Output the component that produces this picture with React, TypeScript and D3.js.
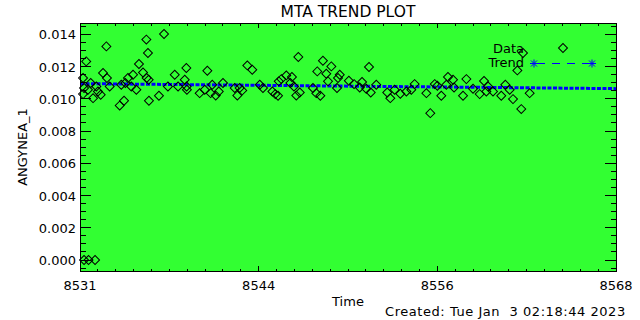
import React from "react";
import * as d3 from "d3";

// data
const dataTime = [
  8531.61, 8531.61, 8531.68, 8531.68, 8531.83, 8531.95, 8531.99, 8532.14, 8532.3, 8532.44,
  8532.53, 8532.64, 8532.83, 8532.99, 8533.22, 8533.26, 8533.45, 8534.14, 8534.25, 8534.44,
  8534.53, 8534.71, 8534.94, 8535.06, 8535.29, 8535.47, 8535.75, 8535.98, 8536.0, 8536.09,
  8536.14, 8536.16, 8536.85, 8537.2, 8537.47, 8537.94, 8538.17, 8538.63, 8538.74, 8538.76,
  8538.78, 8539.66, 8540.01, 8540.19, 8540.42, 8540.53, 8540.77, 8540.98, 8541.27, 8542.08,
  8542.26, 8542.42, 8542.6, 8542.95, 8543.29, 8543.81, 8544.03, 8544.68, 8544.88, 8545.07,
  8545.12, 8545.3, 8545.64, 8545.92, 8546.03, 8546.17, 8546.33, 8546.47, 8546.57, 8547.48,
  8547.71, 8547.78, 8547.99, 8548.17, 8548.4, 8548.52, 8548.75, 8549.14, 8549.21, 8549.33,
  8549.96, 8550.32, 8550.71, 8550.87, 8551.16, 8551.35, 8551.47, 8551.85, 8552.61, 8552.82,
  8553.12, 8553.51, 8553.93, 8554.27, 8554.5, 8555.31, 8555.58, 8555.89, 8556.07, 8556.34,
  8556.69, 8556.8, 8557.15, 8557.22, 8557.84, 8558.07, 8558.53, 8558.99, 8559.29, 8559.45,
  8559.57, 8559.91, 8560.48, 8560.76, 8561.06, 8561.29, 8561.59, 8561.86, 8561.98, 8562.44,
  8564.74,
];
const dataValue = [
  0.01129, 0.01029, 0.01067, 0.0, 0.01232, 0.01056, 0.0, 0.01098, 0.01004, 0.0,
  0.01076, 0.01045, 0.01025, 0.0116, 0.01325, 0.01129, 0.01076, 0.00958, 0.01087, 0.00988,
  0.01098, 0.01129, 0.01076, 0.01149, 0.01056, 0.01216, 0.01163, 0.01367, 0.01129, 0.01284,
  0.01118, 0.00988, 0.01019, 0.01402, 0.01076, 0.01149, 0.01076, 0.01118, 0.01191, 0.01076,
  0.01056, 0.01035, 0.01056, 0.01174, 0.01035, 0.01087, 0.0102, 0.01045, 0.01098, 0.01067,
  0.0102, 0.01067, 0.01052, 0.01207, 0.0118, 0.01087, 0.01067, 0.01045, 0.01029, 0.01019,
  0.01108, 0.01122, 0.01145, 0.01098, 0.01135, 0.01076, 0.0102, 0.01259, 0.01039, 0.01067,
  0.01035, 0.0117, 0.01019, 0.01236, 0.01155, 0.01108, 0.01201, 0.01067, 0.01129, 0.01149,
  0.01112, 0.01091, 0.0107, 0.01104, 0.01062, 0.01197, 0.01039, 0.01087, 0.01039, 0.01004,
  0.01056, 0.01031, 0.01045, 0.01056, 0.01091, 0.01035, 0.00911, 0.01091, 0.01081, 0.01019,
  0.01087, 0.01135, 0.01118, 0.0107, 0.01019, 0.01122, 0.01062, 0.01029, 0.0111, 0.01045,
  0.01076, 0.01045, 0.01019, 0.01087, 0.01056, 0.00998, 0.01176, 0.00936, 0.01284, 0.01035,
  0.01315,
];
const trendTime = [8531.4, 8568.4];
const trendValue = [0.01094, 0.01063];

const xTickLabels = ["8531", "8544", "8556", "8568"];
const yTickValues = [0, 0.002, 0.004, 0.006, 0.008, 0.01, 0.012, 0.014];
const xDomain = [8531.4, 8568.4];
const yDomain = [-0.00068, 0.0147];

const GREEN = "#32ff32";
const BLUE = "#0000ff";
const FONT = "DejaVu Sans";

export default function App() {
  const width = 640;
  const height = 320;
  const left = 80;
  const right = 616;
  const top = 23;
  const bottom = 271;

  const x = d3.scaleLinear().domain(xDomain).range([left, right]);
  const y = d3.scaleLinear().domain(yDomain).range([bottom, top]);

  // x axis: labels sit at evenly spaced positions, 10 minor intervals each
  const xSpan = xDomain[1] - xDomain[0];
  const nMajor = xTickLabels.length - 1;
  const xMinor = d3.range(0, nMajor * 10 + 1).map((i) => xDomain[0] + (i * xSpan) / (nMajor * 10));
  const xMajor = xTickLabels.map((_, i) => xDomain[0] + (i * xSpan) / nMajor);

  const yMinor = d3.range(-1, 30).map((i) => i * 0.0005).filter((v) => v >= yDomain[0] && v <= yDomain[1]);

  const diamond = d3.symbol().type(d3.symbolSquare).size(40)();
  const trendLine = d3
    .line<number>()
    .x((d, i) => x(trendTime[i]))
    .y((d) => y(d))(trendValue);

  const xMajLen = 5;
  const xMinLen = 2.5;
  const yMajLen = 11;
  const yMinLen = 5.5;

  const asterisk = (cx: number, cy: number, key: string) => (
    <g key={key} stroke={BLUE} strokeWidth={1}>
      <line x1={cx - 4} y1={cy} x2={cx + 4} y2={cy} />
      <line x1={cx} y1={cy - 4} x2={cx} y2={cy + 4} />
      <line x1={cx - 3} y1={cy - 3} x2={cx + 3} y2={cy + 3} />
      <line x1={cx - 3} y1={cy + 3} x2={cx + 3} y2={cy - 3} />
    </g>
  );

  return (
    <svg
      width={width}
      height={height}
      style={{ position: "absolute", left: 0, top: 0, background: "white" }}
      fontFamily={FONT}
    >
      <rect x={left} y={top} width={right - left} height={bottom - top} fill={GREEN} />

      {/* trend */}
      <path d={trendLine || ""} fill="none" stroke={BLUE} strokeWidth={3} strokeDasharray="4 1.5" />

      {/* data points */}
      <g fill="none" stroke="black" strokeWidth={1}>
        {dataTime.map((t, i) => (
          <path
            key={i}
            d={diamond || ""}
            transform={`translate(${x(t)},${y(dataValue[i])}) rotate(45)`}
          />
        ))}
      </g>

      {/* frame and ticks */}
      <g stroke="black" strokeWidth={1} shapeRendering="crispEdges">
        <rect x={left} y={top} width={right - left} height={bottom - top} fill="none" />
        {xMinor.map((v, i) => {
          const len = i % 10 === 0 ? xMajLen : xMinLen;
          return (
            <g key={"xt" + i}>
              <line x1={x(v)} x2={x(v)} y1={bottom} y2={bottom - len} />
              <line x1={x(v)} x2={x(v)} y1={top} y2={top + len} />
            </g>
          );
        })}
        {yMinor.map((v, i) => {
          const major = Math.abs(v / 0.002 - Math.round(v / 0.002)) < 1e-6;
          const len = major ? yMajLen : yMinLen;
          return (
            <g key={"yt" + i}>
              <line x1={left} x2={left + len} y1={y(v)} y2={y(v)} />
              <line x1={right} x2={right - len} y1={y(v)} y2={y(v)} />
            </g>
          );
        })}
      </g>

      {/* tick labels */}
      <g fontSize={13} fill="black">
        {xMajor.map((v, i) => (
          <text key={"xl" + i} x={x(v)} y={290} textAnchor="middle">
            {xTickLabels[i]}
          </text>
        ))}
        {yTickValues.map((v) => (
          <text key={"yl" + v} x={76} y={y(v) + 5} textAnchor="end">
            {d3.format(".3f")(v)}
          </text>
        ))}
      </g>

      {/* titles */}
      <text x={(left + right) / 2} y={17} textAnchor="middle" fontSize={15.5}>
        MTA TREND PLOT
      </text>
      <text x={(left + right) / 2} y={306} textAnchor="middle" fontSize={13}>
        Time
      </text>
      <text
        transform={`translate(27,${(top + bottom) / 2}) rotate(-90)`}
        textAnchor="middle"
        fontSize={13}
      >
        ANGYNEA_1
      </text>
      <text x={385} y={316} fontSize={13} letterSpacing={0.55} style={{ whiteSpace: "pre" }}>
        {"Created: Tue Jan  3 02:18:44 2023"}
      </text>

      {/* legend */}
      <g fontSize={13}>
        <text x={524} y={53} textAnchor="end">
          Data
        </text>
        <text x={524} y={67} textAnchor="end">
          Trend
        </text>
      </g>
      <line x1={537} x2={589} y1={63.5} y2={63.5} stroke={BLUE} strokeWidth={1} strokeDasharray="8 7" />
      {asterisk(534, 63.5, "a1")}
      {asterisk(592, 63.5, "a2")}
    </svg>
  );
}
